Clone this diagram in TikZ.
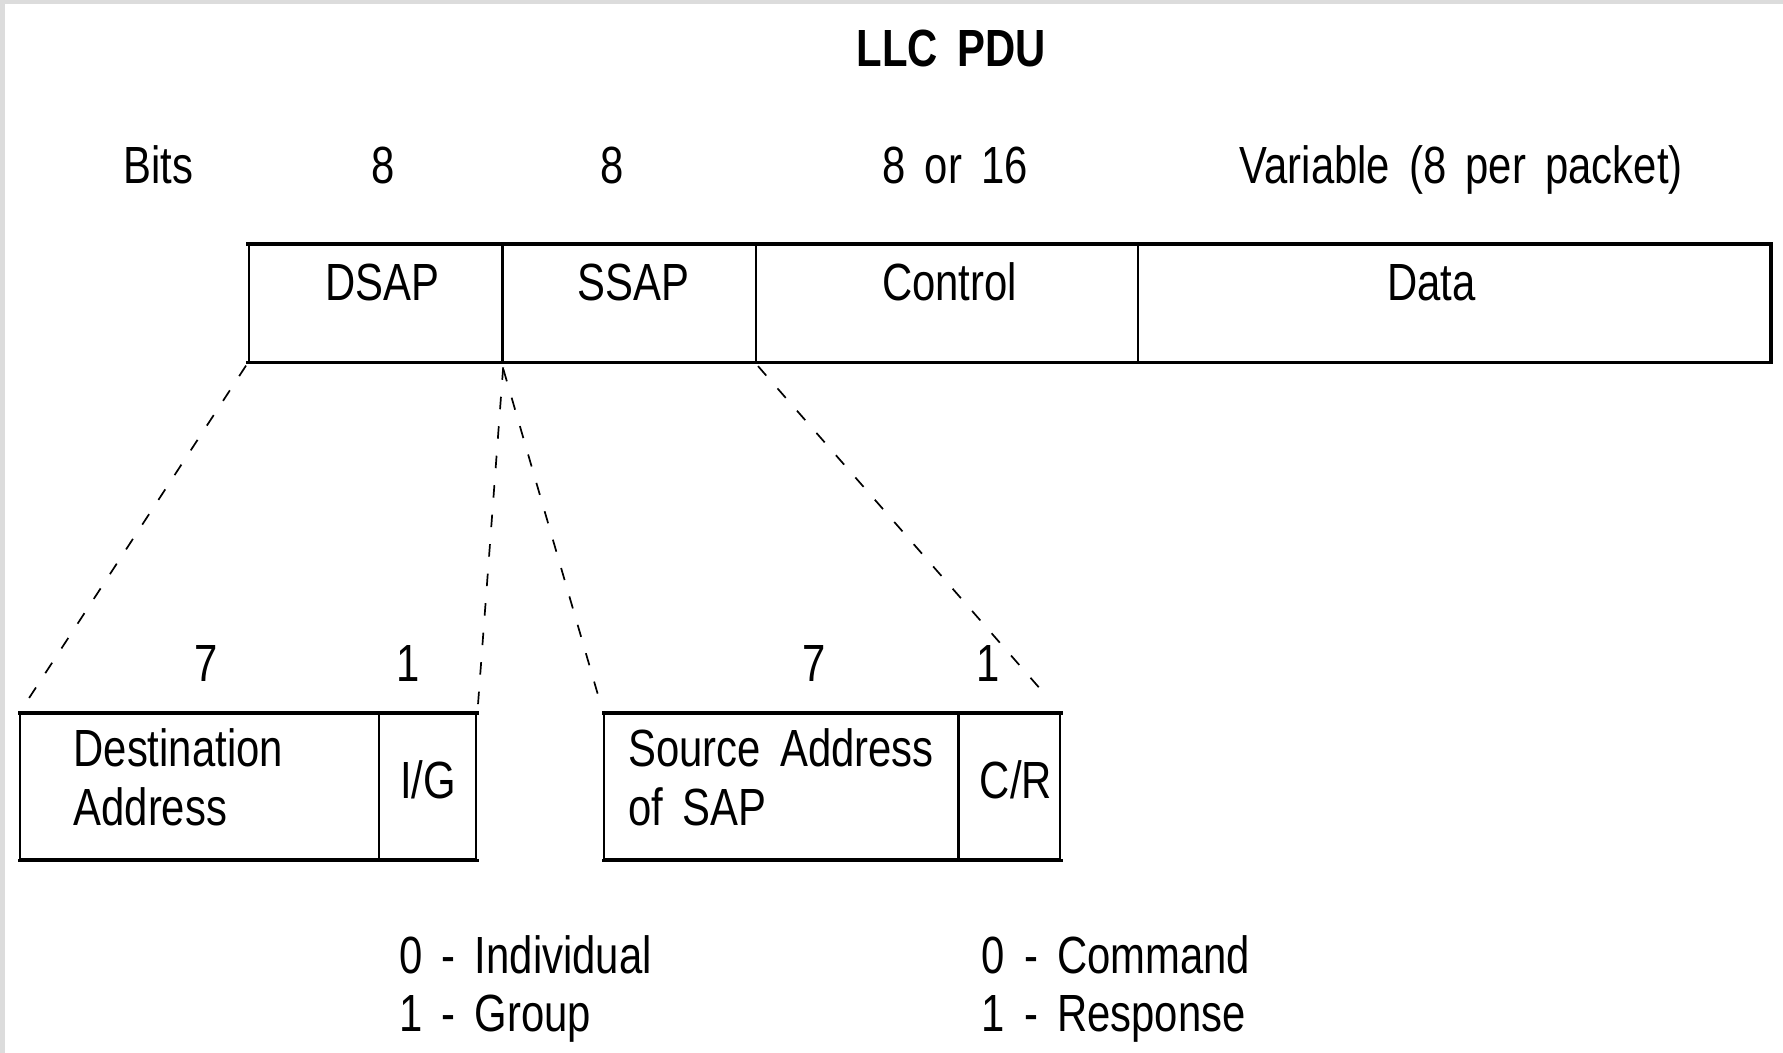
\documentclass[tikz,border=0pt]{standalone}
\usepackage{fontspec}
\setmainfont{Liberation Sans}[FakeStretch=0.8, WordSpace=1.65]
\definecolor{framegrey}{HTML}{DCDCDC}
\begin{document}
\begin{tikzpicture}[x=1pt,y=-1pt,
  txt/.style={inner sep=0pt, font=\fontsize{46}{55}\selectfont, anchor=base},
  ltxt/.style={txt, anchor=base west},
  field/.style={draw, line width=1.8pt, inner sep=0pt, anchor=north west},
  rule/.style={line width=3pt, line cap=rect},
  dashline/.style={line width=1.5pt, dash pattern=on 11pt off 15pt}]
\useasboundingbox (0,0) rectangle (1568,926);
\fill[white] (0,0) rectangle (1568,926);
\fill[framegrey] (0,0) rectangle (1568,3.5);
\fill[framegrey] (0,0) rectangle (4,926);

% title
\node[txt, font=\fontsize{46}{55}\selectfont\bfseries] (title) at (836.5,58.6) {LLC PDU};

% bit counts
\node[txt] (bits) at (139,161) {Bits};
\node[txt] (b1) at (337,161) {8};
\node[txt] (b2) at (538,161) {8};
\node[txt] (b3) at (840,161) {8 or 16};
\node[txt] (b4) at (1285,161) {Variable (8 per packet)};

% main PDU fields
\node[field, minimum width=223pt, minimum height=102.7pt] (dsap) at (218,214.5) {};
\node[field, minimum width=223pt, minimum height=102.7pt] (ssap) at (441,214.5) {};
\node[field, minimum width=336pt, minimum height=102.7pt] (control) at (664,214.5) {};
\node[field, minimum width=556pt, minimum height=102.7pt] (data) at (1000,214.5) {};
\draw[rule] (dsap.north west) -- (data.north east);
\draw[rule] (dsap.south west) -- (data.south east);
\draw[rule] (data.north east) -- (data.south east);

\node[txt] (dsapt) at (336,264) {DSAP};
\node[txt] (ssapt) at (557,264) {SSAP};
\node[txt] (controlt) at (835,264) {Control};
\node[txt] (datat) at (1259,264) {Data};

% sub-field bit counts
\node[txt] (s1) at (181,599.5) {7};
\node[txt] (s2) at (359,599.5) {1};
\node[txt] (s3) at (716,599.5) {7};
\node[txt] (s4) at (869,599.5) {1};

% DSAP breakdown
\node[field, minimum width=315pt, minimum height=127.7pt] (dest) at (17,627) {};
\node[field, minimum width=86pt, minimum height=127.7pt] (ig) at (332,627) {};
\draw[rule] (dest.north west) -- (ig.north east);
\draw[rule] (dest.south west) -- (ig.south east);
\node[ltxt] (destl1) at (64.5,674) {Destination};
\node[ltxt] (destl2) at (64.5,725.6) {Address};
\node[txt] (igt) at (376.5,702) {I/G};

% SSAP breakdown
\node[field, minimum width=311.5pt, minimum height=127.7pt] (src) at (530.5,627) {};
\node[field, minimum width=89.5pt, minimum height=127.7pt] (cr) at (842,627) {};
\draw[rule] (src.north west) -- (cr.north east);
\draw[rule] (src.south west) -- (cr.south east);
\node[ltxt] (srcl1) at (552.5,674) {Source Address};
\node[ltxt] (srcl2) at (552.5,725.6) {of SAP};
\node[txt] (crt) at (893.5,702) {C/R};

% dashed expansion lines
\draw[dashline, shorten <=3pt, shorten >=12pt] (dsap.south west) -- (dest.north west);
\draw[dashline, shorten <=4pt, shorten >=5pt] (dsap.south east) -- (ig.north east);
\draw[dashline, shorten <=6pt, shorten >=9pt] (ssap.south west) -- (src.north west);
\draw[dashline, shorten <=4pt, shorten >=18pt] (control.south west) -- (cr.north east);

% legends
\node[ltxt] (lg1) at (351,856) {0 - Individual};
\node[ltxt] (lg2) at (351,907) {1 - Group};
\node[ltxt] (lg3) at (863,856) {0 - Command};
\node[ltxt] (lg4) at (863,907) {1 - Response};
\end{tikzpicture}
\end{document}
